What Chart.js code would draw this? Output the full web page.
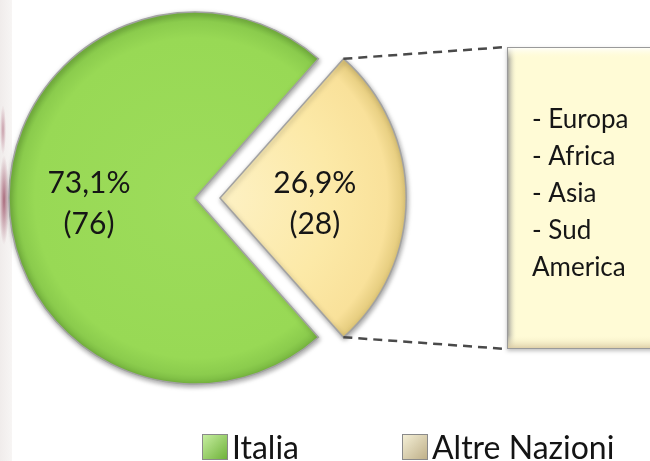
<!DOCTYPE html>
<html>
<head>
<meta charset="utf-8">
<script src="https://cdn.jsdelivr.net/npm/chart.js@4.4.1/dist/chart.umd.min.js"></script>
<style>
  body { margin: 0; background: #fff; }
  #wrap { position: relative; width: 650px; height: 461px; overflow: hidden; background: #fff; }
  #strip {
    position: absolute; left: 0; top: 0; width: 12px; height: 461px;
    background:
      radial-gradient(ellipse 5px 45px at 4px 200px, rgba(120,20,50,0.6), rgba(120,20,50,0) 100%),
      radial-gradient(ellipse 3px 25px at 3px 130px, rgba(140,40,70,0.4), rgba(140,40,70,0) 100%),
      linear-gradient(90deg, #f0eceb, #f7f5f4);
  }
  #pie { position: absolute; left: 0; top: 0; }
  .leg { position: absolute; top: 427px; display: flex; align-items: center;
         font-family: Lato, sans-serif; font-size: 32px; color: #141414; }
  .leg i { display: inline-block; width: 26px; height: 26px; margin-right: 4px;
           border: 1px solid #8a8a8a; box-sizing: border-box; }
</style>
</head>
<body>
<div id="wrap">
  <div id="strip"></div>
  <canvas id="pie" width="650" height="461"></canvas>
</div>
<script>
var labels = ['Italia', 'Altre Nazioni'];
var counts = [76, 28];
var regions = ['- Europa', '- Africa', '- Asia', '- Sud', 'America'];

var sliceColors = ['#9ADA58', '#FCE8A4'];
var gradStops = [
  [[0, '#9DDC5B'], [0.86, '#98D955'], [0.95, '#8BCC4D'], [1, '#77B640']],
  [[0, '#FDF1C4'], [0.6, '#FCE9A7'], [0.9, '#F9E19A'], [1, '#E2C97A']]
];
var legendSwatch = ['linear-gradient(135deg,#c6eea0,#6fb23a)', 'linear-gradient(135deg,#f4efd6,#bfb089)'];
var legendLeft = [202, 402];
var explode = [0, 100];   // chart.js draws offset / 4 -> 25px
var labelDist = [0.57, 0.51];
var pieRadius = 186;

var total = counts.reduce(function (a, b) { return a + b; }, 0);
// put the "Altre Nazioni" slice centred on the right side
var rotation = 90 - (360 * counts[0] / total + 180 * counts[1] / total);

var fmt = function (v) { return (v * 100 / total).toFixed(1).replace('.', ',') + '%'; };

var shadow = {
  id: 'shadow',
  beforeDatasetDraw: function (chart) {
    var ctx = chart.ctx;
    ctx.save();
    ctx.shadowColor = 'rgba(0,0,0,0.35)';
    ctx.shadowBlur = 5;
    ctx.shadowOffsetX = 1;
    ctx.shadowOffsetY = 2;
  },
  afterDatasetDraw: function (chart) { chart.ctx.restore(); }
};

var sliceLabels = {
  id: 'sliceLabels',
  afterDatasetsDraw: function (chart) {
    var ctx = chart.ctx;
    var arcs = chart.getDatasetMeta(0).data;
    ctx.save();
    ctx.fillStyle = '#161616';
    ctx.font = '30px Lato, sans-serif';
    ctx.textAlign = 'center';
    ctx.textBaseline = 'middle';
    arcs.forEach(function (arc, i) {
      var p = arc.getProps(['x', 'y', 'startAngle', 'endAngle', 'outerRadius']);
      var mid = (p.startAngle + p.endAngle) / 2;
      var d = (arc.options.offset || 0) / 4 + labelDist[i] * p.outerRadius;
      var x = p.x + Math.cos(mid) * d;
      var y = p.y + Math.sin(mid) * d + 5;
      ctx.fillText(fmt(counts[i]), x, y - 20);
      ctx.fillText('(' + counts[i] + ')', x, y + 21);
    });
    ctx.restore();
  }
};

var callout = {
  id: 'callout',
  afterDraw: function (chart) {
    var ctx = chart.ctx;
    var arc = chart.getDatasetMeta(0).data[1];
    var p = arc.getProps(['x', 'y', 'startAngle', 'endAngle', 'outerRadius']);
    var mid = (p.startAngle + p.endAngle) / 2;
    var off = arc.options.offset / 4;
    var ox = p.x + Math.cos(mid) * off;
    var oy = p.y + Math.sin(mid) * off;
    var top = { x: ox + Math.cos(p.startAngle) * p.outerRadius, y: oy + Math.sin(p.startAngle) * p.outerRadius };
    var bot = { x: ox + Math.cos(p.endAngle) * p.outerRadius, y: oy + Math.sin(p.endAngle) * p.outerRadius };

    var L = 507, T = 47, R = 662, B = 349;
    ctx.save();
    // box with bevel
    ctx.shadowColor = 'rgba(0,0,0,0.25)';
    ctx.shadowBlur = 4;
    ctx.shadowOffsetY = 2;
    ctx.fillStyle = '#FFFBD6';
    ctx.fillRect(L, T, R - L, B - T);
    ctx.shadowColor = 'transparent';
    var g = ctx.createLinearGradient(L, 0, L + 10, 0);
    g.addColorStop(0, '#8f8f8f'); g.addColorStop(1, 'rgba(255,251,214,0)');
    ctx.fillStyle = g; ctx.fillRect(L, T, 10, B - T);
    g = ctx.createLinearGradient(0, T, 0, T + 12);
    g.addColorStop(0, '#ffffff'); g.addColorStop(1, 'rgba(255,251,214,0)');
    ctx.fillStyle = g; ctx.fillRect(L, T, R - L, 12);
    g = ctx.createLinearGradient(0, B - 14, 0, B);
    g.addColorStop(0, 'rgba(255,251,214,0)'); g.addColorStop(1, '#d9c9a2');
    ctx.fillStyle = g; ctx.fillRect(L, B - 14, R - L, 14);
    ctx.strokeStyle = '#9a9a9a'; ctx.lineWidth = 1;
    ctx.strokeRect(L + 0.5, T + 0.5, R - L, B - T - 1);

    // dashed connectors
    ctx.strokeStyle = '#4a4a4a';
    ctx.lineWidth = 2.5;
    ctx.setLineDash([9, 6]);
    ctx.beginPath();
    ctx.moveTo(top.x, top.y); ctx.lineTo(L, T);
    ctx.moveTo(bot.x, bot.y); ctx.lineTo(L, B);
    ctx.stroke();
    ctx.setLineDash([]);

    // list text
    ctx.fillStyle = '#161616';
    ctx.font = '26px Lato, sans-serif';
    ctx.textAlign = 'left';
    ctx.textBaseline = 'middle';
    regions.forEach(function (r, i) { ctx.fillText(r, 532, 120 + i * 37); });
    ctx.restore();
  }
};

new Chart(document.getElementById('pie'), {
  type: 'pie',
  data: {
    labels: labels,
    datasets: [{
      data: counts,
      backgroundColor: function (c) {
        var ca = c.chart.chartArea;
        if (!ca) return sliceColors[c.dataIndex];
        var cx = (ca.left + ca.right) / 2, cy = (ca.top + ca.bottom) / 2;
        var g = c.chart.ctx.createRadialGradient(cx, cy, 0, cx, cy, pieRadius);
        gradStops[c.dataIndex].forEach(function (s) { g.addColorStop(s[0], s[1]); });
        return g;
      },
      borderColor: '#a2a2a2',
      borderWidth: 1.5,
      borderJoinStyle: 'miter',
      offset: explode
    }]
  },
  options: {
    responsive: false,
    animation: false,
    rotation: rotation,
    radius: pieRadius,
    layout: { padding: { left: 0, top: 0, right: 260, bottom: 65 } },
    plugins: { legend: { display: false }, tooltip: { enabled: false } }
  },
  plugins: [shadow, sliceLabels, callout]
});

// legend
var wrap = document.getElementById('wrap');
labels.forEach(function (l, i) {
  var d = document.createElement('div');
  d.className = 'leg';
  d.style.left = legendLeft[i] + 'px';
  var sw = document.createElement('i');
  sw.style.background = legendSwatch[i];
  d.appendChild(sw);
  d.appendChild(document.createTextNode(l));
  wrap.appendChild(d);
});
</script>
</body>
</html>
